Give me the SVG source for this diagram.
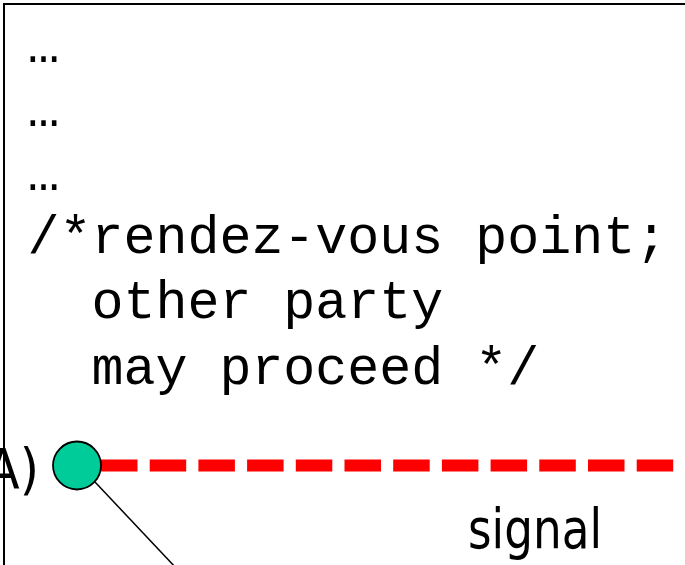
<svg xmlns="http://www.w3.org/2000/svg" width="685" height="565" viewBox="0 0 685 565">
  <style>
    .code { font-family: "Liberation Mono", "Courier New", monospace; font-size: 53.3px; fill: #000; white-space: pre; }
    .lbl { font-family: "DejaVu Sans Condensed", "DejaVu Sans", sans-serif; font-size: 55px; fill: #000; }
  </style>
  <rect x="0" y="0" width="685" height="565" fill="#fff"/>
  <g id="box">
    <rect x="4" y="4" width="720" height="620" fill="#fff" stroke="#000" stroke-width="2"/>
    <text class="code" x="27.5" y="61.5">…</text>
    <text class="code" x="27.5" y="125.5">…</text>
    <text class="code" x="27.5" y="189.5">…</text>
    <text class="code" x="27.5" y="252.5" xml:space="preserve">/*rendez-vous point;</text>
    <text class="code" x="27.5" y="318" xml:space="preserve">  other party</text>
    <text class="code" x="27.5" y="383.5" xml:space="preserve">  may proceed */</text>
  </g>
  <g id="connectors">
    <line x1="101" y1="465.5" x2="700" y2="465.5" stroke="#f00" stroke-width="12" stroke-dasharray="36.5 12.2"/>
    <line x1="95" y1="482" x2="177" y2="569" stroke="#000" stroke-width="1.5"/>
  </g>
  <g id="nodeA">
    <circle cx="77" cy="465.5" r="24" fill="#00cc99" stroke="#000" stroke-width="1.8"/>
    <text class="lbl" x="39" y="488" text-anchor="end">A)</text>
  </g>
  <g id="signal">
    <text class="lbl" x="468" y="548" textLength="134" lengthAdjust="spacingAndGlyphs">signal</text>
  </g>
</svg>
